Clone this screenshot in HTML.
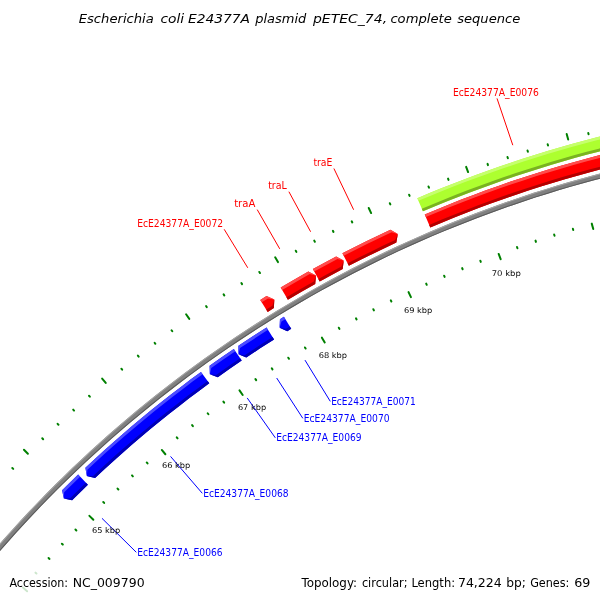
<!DOCTYPE html>
<html><head><meta charset="utf-8"><title>Escherichia coli E24377A plasmid pETEC_74</title>
<style>html,body{margin:0;padding:0;background:#fff;overflow:hidden}svg{display:block}</style></head>
<body>
<svg font-family="DejaVu Sans, Liberation Sans, sans-serif" width="600" height="600" viewBox="0 0 600 600">
<rect width="600" height="600" fill="#fff"/>
<g stroke-width="2" stroke-linecap="round"><line x1="-43.69" y1="530.94" x2="-47.95" y2="527.31" stroke="rgb(0,128,0)"/>
<line x1="22.86" y1="587.60" x2="27.12" y2="591.23" stroke="rgb(205,230,205)"/>
<line x1="-29.71" y1="515.19" x2="-30.69" y2="514.33" stroke="rgb(0,128,0)"/>
<line x1="35.49" y1="572.64" x2="36.47" y2="573.50" stroke="rgb(205,230,205)"/>
<line x1="-15.66" y1="499.51" x2="-16.62" y2="498.63" stroke="rgb(0,128,0)"/>
<line x1="48.56" y1="558.05" x2="49.52" y2="558.93" stroke="rgb(0,128,0)"/>
<line x1="-1.34" y1="484.07" x2="-2.29" y2="483.18" stroke="rgb(0,128,0)"/>
<line x1="61.88" y1="543.69" x2="62.82" y2="544.58" stroke="rgb(0,128,0)"/>
<line x1="13.23" y1="468.87" x2="12.30" y2="467.96" stroke="rgb(0,128,0)"/>
<line x1="75.44" y1="529.56" x2="76.37" y2="530.46" stroke="rgb(0,128,0)"/>
<line x1="27.89" y1="453.75" x2="23.95" y2="449.77" stroke="rgb(0,128,0)"/>
<line x1="89.41" y1="515.83" x2="93.35" y2="519.81" stroke="rgb(0,128,0)"/>
<line x1="43.15" y1="439.23" x2="42.25" y2="438.29" stroke="rgb(0,128,0)"/>
<line x1="103.26" y1="501.99" x2="104.16" y2="502.92" stroke="rgb(0,128,0)"/>
<line x1="58.48" y1="424.79" x2="57.59" y2="423.84" stroke="rgb(0,128,0)"/>
<line x1="117.52" y1="488.56" x2="118.40" y2="489.51" stroke="rgb(0,128,0)"/>
<line x1="74.05" y1="410.62" x2="73.18" y2="409.65" stroke="rgb(0,128,0)"/>
<line x1="132.00" y1="475.37" x2="132.87" y2="476.34" stroke="rgb(0,128,0)"/>
<line x1="89.86" y1="396.71" x2="89.01" y2="395.73" stroke="rgb(0,128,0)"/>
<line x1="146.71" y1="462.44" x2="147.56" y2="463.42" stroke="rgb(0,128,0)"/>
<line x1="105.74" y1="382.88" x2="102.15" y2="378.58" stroke="rgb(0,128,0)"/>
<line x1="161.79" y1="449.94" x2="165.38" y2="454.24" stroke="rgb(0,128,0)"/>
<line x1="122.17" y1="369.70" x2="121.35" y2="368.69" stroke="rgb(0,128,0)"/>
<line x1="176.76" y1="437.32" x2="177.58" y2="438.33" stroke="rgb(0,128,0)"/>
<line x1="138.66" y1="356.61" x2="137.86" y2="355.59" stroke="rgb(0,128,0)"/>
<line x1="192.10" y1="425.14" x2="192.90" y2="426.17" stroke="rgb(0,128,0)"/>
<line x1="155.38" y1="343.81" x2="154.60" y2="342.77" stroke="rgb(0,128,0)"/>
<line x1="207.65" y1="413.23" x2="208.43" y2="414.27" stroke="rgb(0,128,0)"/>
<line x1="172.31" y1="331.28" x2="171.54" y2="330.23" stroke="rgb(0,128,0)"/>
<line x1="223.39" y1="401.58" x2="224.16" y2="402.63" stroke="rgb(0,128,0)"/>
<line x1="189.30" y1="318.84" x2="186.09" y2="314.26" stroke="rgb(0,128,0)"/>
<line x1="239.48" y1="390.41" x2="242.69" y2="394.99" stroke="rgb(0,128,0)"/>
<line x1="206.79" y1="307.11" x2="206.06" y2="306.03" stroke="rgb(0,128,0)"/>
<line x1="255.47" y1="379.09" x2="256.19" y2="380.17" stroke="rgb(0,128,0)"/>
<line x1="224.33" y1="295.46" x2="223.62" y2="294.37" stroke="rgb(0,128,0)"/>
<line x1="271.78" y1="368.26" x2="272.49" y2="369.35" stroke="rgb(0,128,0)"/>
<line x1="242.07" y1="284.11" x2="241.37" y2="283.01" stroke="rgb(0,128,0)"/>
<line x1="288.28" y1="357.70" x2="288.97" y2="358.80" stroke="rgb(0,128,0)"/>
<line x1="259.99" y1="273.06" x2="259.32" y2="271.95" stroke="rgb(0,128,0)"/>
<line x1="304.95" y1="347.43" x2="305.63" y2="348.54" stroke="rgb(0,128,0)"/>
<line x1="277.98" y1="262.11" x2="275.16" y2="257.27" stroke="rgb(0,128,0)"/>
<line x1="321.92" y1="337.65" x2="324.74" y2="342.49" stroke="rgb(0,128,0)"/>
<line x1="296.39" y1="251.89" x2="295.76" y2="250.75" stroke="rgb(0,128,0)"/>
<line x1="338.81" y1="327.73" x2="339.45" y2="328.87" stroke="rgb(0,128,0)"/>
<line x1="314.86" y1="241.77" x2="314.24" y2="240.62" stroke="rgb(0,128,0)"/>
<line x1="355.99" y1="318.32" x2="356.60" y2="319.46" stroke="rgb(0,128,0)"/>
<line x1="333.49" y1="231.96" x2="332.89" y2="230.80" stroke="rgb(0,128,0)"/>
<line x1="373.32" y1="309.19" x2="373.91" y2="310.35" stroke="rgb(0,128,0)"/>
<line x1="352.29" y1="222.47" x2="351.71" y2="221.30" stroke="rgb(0,128,0)"/>
<line x1="390.80" y1="300.37" x2="391.38" y2="301.53" stroke="rgb(0,128,0)"/>
<line x1="371.13" y1="213.07" x2="368.74" y2="208.01" stroke="rgb(0,128,0)"/>
<line x1="408.54" y1="292.06" x2="410.93" y2="297.12" stroke="rgb(0,128,0)"/>
<line x1="390.35" y1="204.44" x2="389.81" y2="203.26" stroke="rgb(0,128,0)"/>
<line x1="426.20" y1="283.60" x2="426.74" y2="284.79" stroke="rgb(0,128,0)"/>
<line x1="409.60" y1="195.92" x2="409.09" y2="194.73" stroke="rgb(0,128,0)"/>
<line x1="444.11" y1="275.67" x2="444.63" y2="276.87" stroke="rgb(0,128,0)"/>
<line x1="429.00" y1="187.72" x2="428.50" y2="186.52" stroke="rgb(0,128,0)"/>
<line x1="462.15" y1="268.05" x2="462.65" y2="269.25" stroke="rgb(0,128,0)"/>
<line x1="448.53" y1="179.85" x2="448.05" y2="178.64" stroke="rgb(0,128,0)"/>
<line x1="480.32" y1="260.73" x2="480.79" y2="261.94" stroke="rgb(0,128,0)"/>
<line x1="468.10" y1="172.08" x2="466.14" y2="166.84" stroke="rgb(0,128,0)"/>
<line x1="498.69" y1="253.95" x2="500.65" y2="259.20" stroke="rgb(0,128,0)"/>
<line x1="487.98" y1="165.11" x2="487.54" y2="163.89" stroke="rgb(0,128,0)"/>
<line x1="517.01" y1="247.02" x2="517.44" y2="248.25" stroke="rgb(0,128,0)"/>
<line x1="507.88" y1="158.25" x2="507.47" y2="157.01" stroke="rgb(0,128,0)"/>
<line x1="535.52" y1="240.63" x2="535.94" y2="241.87" stroke="rgb(0,128,0)"/>
<line x1="527.90" y1="151.72" x2="527.51" y2="150.48" stroke="rgb(0,128,0)"/>
<line x1="554.14" y1="234.56" x2="554.54" y2="235.80" stroke="rgb(0,128,0)"/>
<line x1="548.03" y1="145.53" x2="547.66" y2="144.28" stroke="rgb(0,128,0)"/>
<line x1="572.87" y1="228.81" x2="573.24" y2="230.05" stroke="rgb(0,128,0)"/>
<line x1="568.19" y1="139.44" x2="566.68" y2="134.05" stroke="rgb(0,128,0)"/>
<line x1="591.75" y1="223.61" x2="593.26" y2="229.00" stroke="rgb(0,128,0)"/>
<line x1="588.58" y1="134.18" x2="588.25" y2="132.92" stroke="rgb(0,128,0)"/>
<line x1="610.59" y1="218.25" x2="610.91" y2="219.50" stroke="rgb(0,128,0)"/>
<line x1="609.00" y1="129.02" x2="608.69" y2="127.76" stroke="rgb(0,128,0)"/>
<line x1="629.57" y1="213.45" x2="629.88" y2="214.71" stroke="rgb(0,128,0)"/></g>
<polygon points="-12.32,557.65 -4.29,548.32 3.84,539.06 12.06,529.89 20.38,520.81 28.79,511.81 37.29,502.89 45.88,494.07 54.56,485.33 63.33,476.68 72.19,468.12 81.13,459.65 90.16,451.28 99.28,443.00 108.48,434.81 117.76,426.72 127.13,418.72 136.58,410.82 146.11,403.01 155.71,395.30 165.40,387.70 175.16,380.19 185.00,372.78 194.92,365.47 204.91,358.27 214.97,351.17 225.11,344.17 235.31,337.27 245.59,330.48 255.93,323.80 266.35,317.22 276.83,310.75 287.37,304.39 297.98,298.13 308.66,291.99 319.39,285.95 330.19,280.02 341.05,274.21 351.97,268.50 362.94,262.91 373.97,257.43 385.06,252.07 396.20,246.82 407.39,241.68 418.64,236.66 429.94,231.75 441.28,226.96 452.68,222.28 464.12,217.72 475.61,213.28 487.14,208.96 498.72,204.76 510.34,200.67 522.00,196.71 533.70,192.86 545.44,189.13 557.22,185.53 569.03,182.04 580.88,178.68 592.76,175.43 604.67,172.31 616.62,169.31 628.60,166.44 629.74,171.30 617.81,174.17 605.92,177.15 594.05,180.26 582.22,183.49 570.42,186.84 558.65,190.31 546.93,193.91 535.24,197.62 523.58,201.45 511.97,205.40 500.40,209.47 488.87,213.65 477.39,217.96 465.95,222.38 454.55,226.92 443.20,231.57 431.90,236.34 420.65,241.23 409.45,246.23 398.31,251.35 387.21,256.58 376.17,261.92 365.19,267.38 354.26,272.95 343.39,278.63 332.57,284.42 321.82,290.32 311.13,296.33 300.50,302.45 289.93,308.68 279.43,315.02 269.00,321.46 258.63,328.01 248.32,334.67 238.09,341.43 227.93,348.30 217.83,355.27 207.81,362.34 197.87,369.51 187.99,376.79 178.19,384.17 168.47,391.64 158.82,399.22 149.26,406.90 139.77,414.67 130.36,422.54 121.03,430.50 111.78,438.56 102.62,446.72 93.54,454.96 84.55,463.30 75.64,471.73 66.82,480.26 58.09,488.87 49.44,497.57 40.89,506.36 32.42,515.24 24.05,524.20 15.77,533.25 7.58,542.38 -0.51,551.60 -8.51,560.90" fill="rgb(128,128,128)"/>
<polygon points="-12.32,557.65 -4.29,548.32 3.84,539.06 12.06,529.89 20.38,520.81 28.79,511.81 37.29,502.89 45.88,494.07 54.56,485.33 63.33,476.68 72.19,468.12 81.13,459.65 90.16,451.28 99.28,443.00 108.48,434.81 117.76,426.72 127.13,418.72 136.58,410.82 146.11,403.01 155.71,395.30 165.40,387.70 175.16,380.19 185.00,372.78 194.92,365.47 204.91,358.27 214.97,351.17 225.11,344.17 235.31,337.27 245.59,330.48 255.93,323.80 266.35,317.22 276.83,310.75 287.37,304.39 297.98,298.13 308.66,291.99 319.39,285.95 330.19,280.02 341.05,274.21 351.97,268.50 362.94,262.91 373.97,257.43 385.06,252.07 396.20,246.82 407.39,241.68 418.64,236.66 429.94,231.75 441.28,226.96 452.68,222.28 464.12,217.72 475.61,213.28 487.14,208.96 498.72,204.76 510.34,200.67 522.00,196.71 533.70,192.86 545.44,189.13 557.22,185.53 569.03,182.04 580.88,178.68 592.76,175.43 604.67,172.31 616.62,169.31 628.60,166.44 628.82,167.41 616.86,170.28 604.92,173.28 593.02,176.40 581.15,179.64 569.31,183.00 557.50,186.48 545.74,190.09 534.01,193.81 522.32,197.65 510.66,201.62 499.05,205.70 487.49,209.90 475.96,214.22 464.48,218.66 453.05,223.21 441.67,227.88 430.33,232.67 419.04,237.57 407.80,242.59 396.62,247.72 385.49,252.97 374.41,258.33 363.39,263.81 352.42,269.39 341.52,275.09 330.67,280.90 319.88,286.82 309.15,292.86 298.49,299.00 287.89,305.25 277.35,311.60 266.88,318.07 256.47,324.64 246.14,331.32 235.87,338.10 225.67,344.99 215.54,351.99 205.49,359.08 195.51,366.28 185.60,373.58 175.77,380.98 166.01,388.49 156.34,396.09 146.74,403.79 137.22,411.59 127.78,419.48 118.42,427.47 109.14,435.56 99.95,443.74 90.84,452.02 81.81,460.38 72.88,468.84 64.03,477.40 55.26,486.04 46.59,494.77 38.01,503.59 29.51,512.49 21.11,521.48 12.80,530.56 4.59,539.73 -3.53,548.97 -11.56,558.30" fill="rgb(166,166,166)"/>
<polygon points="-9.27,560.25 -1.27,550.94 6.83,541.72 15.03,532.58 23.32,523.52 31.70,514.55 40.17,505.67 48.73,496.87 57.38,488.16 66.12,479.54 74.95,471.01 83.87,462.57 92.87,454.23 101.95,445.97 111.12,437.81 120.38,429.74 129.71,421.77 139.13,413.90 148.63,406.12 158.20,398.44 167.86,390.85 177.59,383.37 187.39,375.99 197.28,368.71 207.23,361.52 217.26,354.45 227.36,347.47 237.54,340.60 247.78,333.83 258.09,327.17 268.47,320.61 278.91,314.16 289.42,307.82 300.00,301.59 310.64,295.46 321.34,289.45 332.10,283.54 342.92,277.74 353.80,272.06 364.74,266.49 375.73,261.03 386.78,255.68 397.89,250.44 409.04,245.32 420.25,240.32 431.51,235.43 442.82,230.65 454.18,225.99 465.58,221.45 477.03,217.02 488.53,212.71 500.06,208.52 511.65,204.45 523.27,200.50 534.93,196.66 546.63,192.95 558.37,189.36 570.14,185.88 581.95,182.53 593.79,179.30 605.67,176.19 617.57,173.20 629.51,170.33 629.74,171.30 617.81,174.17 605.92,177.15 594.05,180.26 582.22,183.49 570.42,186.84 558.65,190.31 546.93,193.91 535.24,197.62 523.58,201.45 511.97,205.40 500.40,209.47 488.87,213.65 477.39,217.96 465.95,222.38 454.55,226.92 443.20,231.57 431.90,236.34 420.65,241.23 409.45,246.23 398.31,251.35 387.21,256.58 376.17,261.92 365.19,267.38 354.26,272.95 343.39,278.63 332.57,284.42 321.82,290.32 311.13,296.33 300.50,302.45 289.93,308.68 279.43,315.02 269.00,321.46 258.63,328.01 248.32,334.67 238.09,341.43 227.93,348.30 217.83,355.27 207.81,362.34 197.87,369.51 187.99,376.79 178.19,384.17 168.47,391.64 158.82,399.22 149.26,406.90 139.77,414.67 130.36,422.54 121.03,430.50 111.78,438.56 102.62,446.72 93.54,454.96 84.55,463.30 75.64,471.73 66.82,480.26 58.09,488.87 49.44,497.57 40.89,506.36 32.42,515.24 24.05,524.20 15.77,533.25 7.58,542.38 -0.51,551.60 -8.51,560.90" fill="rgb(90,90,90)"/>
<polygon points="78.15,474.60 62.16,490.18 63.77,498.53 72.10,500.18 87.89,484.79" fill="rgb(0,0,255)"/>
<polygon points="78.15,474.60 62.16,490.18 63.77,498.53 64.15,492.18 80.10,476.64" fill="rgb(76,76,255)"/>
<polygon points="85.94,482.75 70.11,498.18 63.77,498.53 72.10,500.18 87.89,484.79" fill="rgb(0,0,178)"/>
<polygon points="200.98,371.94 190.90,379.36 180.90,386.88 170.98,394.51 161.13,402.24 151.37,410.07 141.69,418.00 132.10,426.04 122.59,434.17 113.17,442.41 103.83,450.74 94.58,459.17 85.42,467.70 86.80,476.09 95.08,477.97 104.13,469.54 113.27,461.21 122.50,452.98 131.81,444.84 141.21,436.80 150.69,428.86 160.25,421.02 169.90,413.28 179.63,405.64 189.43,398.11 199.32,390.67 209.28,383.35" fill="rgb(0,0,255)"/>
<polygon points="200.98,371.94 190.90,379.36 180.90,386.88 170.98,394.51 161.13,402.24 151.37,410.07 141.69,418.00 132.10,426.04 122.59,434.17 113.17,442.41 103.83,450.74 94.58,459.17 85.42,467.70 86.80,476.09 87.35,469.75 96.49,461.25 105.72,452.84 115.03,444.52 124.44,436.31 133.92,428.19 143.49,420.18 153.15,412.26 162.89,404.45 172.71,396.74 182.61,389.13 192.58,381.62 202.64,374.23" fill="rgb(76,76,255)"/>
<polygon points="207.62,381.07 197.63,388.41 187.73,395.86 177.90,403.42 168.15,411.07 158.48,418.83 148.89,426.69 139.39,434.65 129.97,442.71 120.63,450.86 111.38,459.12 102.22,467.47 93.15,475.91 86.80,476.09 95.08,477.97 104.13,469.54 113.27,461.21 122.50,452.98 131.81,444.84 141.21,436.80 150.69,428.86 160.25,421.02 169.90,413.28 179.63,405.64 189.43,398.11 199.32,390.67 209.28,383.35" fill="rgb(0,0,178)"/>
<polygon points="233.82,348.89 221.66,357.23 209.61,365.73 209.85,374.23 217.80,377.20 229.71,368.81 241.73,360.56" fill="rgb(0,0,255)"/>
<polygon points="233.82,348.89 221.66,357.23 209.61,365.73 209.85,374.23 211.25,368.02 223.27,359.55 235.40,351.22" fill="rgb(76,76,255)"/>
<polygon points="240.14,358.22 228.10,366.49 216.16,374.91 209.85,374.23 217.80,377.20 229.71,368.81 241.73,360.56" fill="rgb(0,0,178)"/>
<polygon points="266.56,327.48 252.44,336.52 238.44,345.77 238.44,354.27 246.30,357.48 260.12,348.34 274.08,339.41" fill="rgb(0,0,255)"/>
<polygon points="266.56,327.48 252.44,336.52 238.44,345.77 238.44,354.27 240.01,348.11 253.97,338.89 268.06,329.87" fill="rgb(76,76,255)"/>
<polygon points="272.57,337.02 258.59,345.98 244.73,355.13 238.44,354.27 246.30,357.48 260.12,348.34 274.08,339.41" fill="rgb(0,0,178)"/>
<polygon points="283.92,316.74 279.96,319.15 279.61,327.64 287.33,331.17 291.23,328.79" fill="rgb(0,0,255)"/>
<polygon points="283.92,316.74 279.96,319.15 279.61,327.64 281.44,321.55 285.38,319.15" fill="rgb(76,76,255)"/>
<polygon points="289.77,326.38 285.85,328.77 279.61,327.64 287.33,331.17 291.23,328.79" fill="rgb(0,0,178)"/>
<polygon points="260.28,299.91 266.51,296.07 274.33,299.57 273.87,308.10 267.71,311.90" fill="rgb(255,0,0)"/>
<polygon points="260.28,299.91 266.51,296.07 274.33,299.57 267.99,298.48 261.77,302.31" fill="rgb(255,76,76)"/>
<polygon points="266.23,309.50 272.40,305.70 274.33,299.57 273.87,308.10 267.71,311.90" fill="rgb(178,0,0)"/>
<polygon points="280.69,287.53 294.47,279.48 308.35,271.61 316.02,275.41 315.22,283.92 301.50,291.70 287.89,299.66" fill="rgb(255,0,0)"/>
<polygon points="280.69,287.53 294.47,279.48 308.35,271.61 316.02,275.41 309.72,274.07 295.88,281.93 282.13,289.96" fill="rgb(255,76,76)"/>
<polygon points="286.45,297.23 300.10,289.26 313.85,281.46 316.02,275.41 315.22,283.92 301.50,291.70 287.89,299.66" fill="rgb(178,0,0)"/>
<polygon points="312.88,269.09 324.48,262.76 336.15,256.56 343.73,260.55 342.71,269.04 331.17,275.17 319.70,281.43" fill="rgb(255,0,0)"/>
<polygon points="312.88,269.09 324.48,262.76 336.15,256.56 343.73,260.55 337.46,259.05 325.82,265.24 314.25,271.56" fill="rgb(255,76,76)"/>
<polygon points="318.34,278.97 329.83,272.69 341.39,266.54 343.73,260.55 342.71,269.04 331.17,275.17 319.70,281.43" fill="rgb(178,0,0)"/>
<polygon points="342.40,253.30 354.31,247.21 366.29,241.26 378.34,235.44 390.44,229.75 397.81,234.12 396.37,242.55 384.40,248.17 372.50,253.92 360.66,259.81 348.88,265.82" fill="rgb(255,0,0)"/>
<polygon points="342.40,253.30 354.31,247.21 366.29,241.26 378.34,235.44 390.44,229.75 397.81,234.12 391.63,232.31 379.55,237.99 367.53,243.79 355.58,249.73 343.70,255.80" fill="rgb(255,76,76)"/>
<polygon points="347.59,263.32 359.39,257.29 371.26,251.39 383.19,245.62 395.18,239.99 397.81,234.12 396.37,242.55 384.40,248.17 372.50,253.92 360.66,259.81 348.88,265.82" fill="rgb(178,0,0)"/>
<polygon points="424.74,214.50 436.87,209.41 449.05,204.45 461.29,199.62 473.57,194.92 485.91,190.35 498.30,185.91 510.73,181.61 523.21,177.45 535.73,173.42 548.30,169.52 560.90,165.76 573.55,162.14 586.24,158.65 598.96,155.30 611.71,152.09 624.51,149.01 627.73,162.74 615.08,165.78 602.47,168.95 589.90,172.27 577.36,175.71 564.86,179.30 552.40,183.01 539.98,186.86 527.60,190.85 515.27,194.96 502.98,199.22 490.73,203.60 478.54,208.11 466.39,212.76 454.30,217.53 442.26,222.44 430.27,227.48" fill="rgb(255,0,0)"/>
<polygon points="424.74,214.50 436.87,209.41 449.05,204.45 461.29,199.62 473.57,194.92 485.91,190.35 498.30,185.91 510.73,181.61 523.21,177.45 535.73,173.42 548.30,169.52 560.90,165.76 573.55,162.14 586.24,158.65 598.96,155.30 611.71,152.09 624.51,149.01 625.15,151.76 612.39,154.82 599.66,158.03 586.97,161.37 574.31,164.85 561.70,168.47 549.12,172.22 536.58,176.11 524.09,180.13 511.64,184.28 499.23,188.57 486.88,193.00 474.57,197.55 462.31,202.24 450.10,207.06 437.94,212.02 425.84,217.10" fill="rgb(255,76,76)"/>
<polygon points="429.16,224.88 441.18,219.83 453.25,214.92 465.37,210.13 477.55,205.47 489.77,200.95 502.04,196.56 514.36,192.29 526.72,188.17 539.13,184.17 551.58,180.31 564.07,176.59 576.60,173.00 589.17,169.54 601.77,166.22 614.41,163.04 627.08,159.99 627.73,162.74 615.08,165.78 602.47,168.95 589.90,172.27 577.36,175.71 564.86,179.30 552.40,183.01 539.98,186.86 527.60,190.85 515.27,194.96 502.98,199.22 490.73,203.60 478.54,208.11 466.39,212.76 454.30,217.53 442.26,222.44 430.27,227.48" fill="rgb(178,0,0)"/>
<polygon points="417.33,198.20 428.93,193.32 440.58,188.56 452.28,183.91 464.03,179.39 475.82,174.98 487.66,170.69 499.54,166.53 511.46,162.48 523.42,158.56 535.42,154.76 547.46,151.08 559.53,147.52 571.64,144.09 583.79,140.77 595.96,137.59 608.17,134.52 620.41,131.58 623.68,145.51 611.58,148.41 599.52,151.44 587.48,154.59 575.47,157.86 563.50,161.26 551.57,164.77 539.67,168.41 527.81,172.17 515.98,176.05 504.20,180.05 492.46,184.16 480.76,188.40 469.10,192.76 457.49,197.23 445.93,201.82 434.41,206.53 422.94,211.36" fill="rgb(173,255,47)"/>
<polygon points="417.33,198.20 428.93,193.32 440.58,188.56 452.28,183.91 464.03,179.39 475.82,174.98 487.66,170.69 499.54,166.53 511.46,162.48 523.42,158.56 535.42,154.76 547.46,151.08 559.53,147.52 571.64,144.09 583.79,140.77 595.96,137.59 608.17,134.52 620.41,131.58 621.07,134.37 608.86,137.30 596.67,140.36 584.52,143.54 572.41,146.84 560.33,150.27 548.28,153.82 536.27,157.49 524.30,161.28 512.36,165.19 500.47,169.23 488.62,173.39 476.81,177.66 465.05,182.06 453.33,186.58 441.65,191.21 430.03,195.96 418.45,200.83" fill="rgb(198,255,109)"/>
<polygon points="421.82,208.73 433.32,203.89 444.86,199.17 456.45,194.57 468.09,190.08 479.77,185.72 491.50,181.47 503.27,177.34 515.08,173.33 526.93,169.45 538.82,165.68 550.74,162.03 562.71,158.51 574.71,155.11 586.74,151.83 598.80,148.67 610.90,145.63 623.03,142.72 623.68,145.51 611.58,148.41 599.52,151.44 587.48,154.59 575.47,157.86 563.50,161.26 551.57,164.77 539.67,168.41 527.81,172.17 515.98,176.05 504.20,180.05 492.46,184.16 480.76,188.40 469.10,192.76 457.49,197.23 445.93,201.82 434.41,206.53 422.94,211.36" fill="rgb(121,178,33)"/>
<line x1="247.76" y1="267.81" x2="224.20" y2="229.30" stroke="rgb(255,0,0)" stroke-width="1"/>
<line x1="279.73" y1="248.85" x2="257.20" y2="209.60" stroke="rgb(255,0,0)" stroke-width="1"/>
<line x1="310.61" y1="231.73" x2="288.90" y2="191.70" stroke="rgb(255,0,0)" stroke-width="1"/>
<line x1="353.63" y1="209.72" x2="333.90" y2="168.50" stroke="rgb(255,0,0)" stroke-width="1"/>
<line x1="512.80" y1="145.19" x2="497.00" y2="98.40" stroke="rgb(255,0,0)" stroke-width="1"/>
<line x1="304.97" y1="360.12" x2="330.30" y2="401.40" stroke="rgb(0,0,255)" stroke-width="1"/>
<line x1="276.69" y1="378.01" x2="302.80" y2="418.30" stroke="rgb(0,0,255)" stroke-width="1"/>
<line x1="247.19" y1="397.94" x2="275.30" y2="437.80" stroke="rgb(0,0,255)" stroke-width="1"/>
<line x1="170.56" y1="456.43" x2="202.30" y2="493.30" stroke="rgb(0,0,255)" stroke-width="1"/>
<line x1="101.98" y1="518.32" x2="136.30" y2="552.30" stroke="rgb(0,0,255)" stroke-width="1"/>
<text id="t_E0072" x="137.15" y="226.6" font-size="10.8" fill="rgb(255,0,0)" textLength="85.95" lengthAdjust="spacingAndGlyphs">EcE24377A_E0072</text>
<text id="t_traA" x="234.15" y="206.9" font-size="10.8" fill="rgb(255,0,0)" textLength="21.20" lengthAdjust="spacingAndGlyphs">traA</text>
<text id="t_traL" x="268.15" y="189.0" font-size="10.8" fill="rgb(255,0,0)" textLength="18.70" lengthAdjust="spacingAndGlyphs">traL</text>
<text id="t_traE" x="313.40" y="165.8" font-size="10.8" fill="rgb(255,0,0)" textLength="18.95" lengthAdjust="spacingAndGlyphs">traE</text>
<text id="t_E0076" x="452.90" y="95.6" font-size="10.8" fill="rgb(255,0,0)" textLength="85.95" lengthAdjust="spacingAndGlyphs">EcE24377A_E0076</text>
<text id="t_E0071" x="331.15" y="404.6" font-size="10.8" fill="rgb(0,0,255)" textLength="84.70" lengthAdjust="spacingAndGlyphs">EcE24377A_E0071</text>
<text id="t_E0070" x="303.65" y="421.5" font-size="10.8" fill="rgb(0,0,255)" textLength="85.95" lengthAdjust="spacingAndGlyphs">EcE24377A_E0070</text>
<text id="t_E0069" x="276.15" y="441.0" font-size="10.8" fill="rgb(0,0,255)" textLength="85.45" lengthAdjust="spacingAndGlyphs">EcE24377A_E0069</text>
<text id="t_E0068" x="203.15" y="496.5" font-size="10.8" fill="rgb(0,0,255)" textLength="85.45" lengthAdjust="spacingAndGlyphs">EcE24377A_E0068</text>
<text id="t_E0066" x="137.15" y="555.5" font-size="10.8" fill="rgb(0,0,255)" textLength="85.45" lengthAdjust="spacingAndGlyphs">EcE24377A_E0066</text>
<text id="k65" x="91.90" y="532.7" font-size="7.9" fill="#0a0a0a" textLength="28.45" lengthAdjust="spacingAndGlyphs">65 kbp</text>
<text id="k66" x="161.90" y="467.6" font-size="7.9" fill="#0a0a0a" textLength="28.45" lengthAdjust="spacingAndGlyphs">66 kbp</text>
<text id="k67" x="237.90" y="410.0" font-size="7.9" fill="#0a0a0a" textLength="28.20" lengthAdjust="spacingAndGlyphs">67 kbp</text>
<text id="k68" x="318.65" y="357.6" font-size="7.9" fill="#0a0a0a" textLength="28.45" lengthAdjust="spacingAndGlyphs">68 kbp</text>
<text id="k69" x="403.90" y="312.8" font-size="7.9" fill="#0a0a0a" textLength="28.45" lengthAdjust="spacingAndGlyphs">69 kbp</text>
<text id="k70" x="491.65" y="275.9" font-size="7.9" fill="#0a0a0a" textLength="29.20" lengthAdjust="spacingAndGlyphs">70 kbp</text>
<text id="h1" x="78.65" y="23.0" font-size="13.0" fill="#000" font-style="italic" textLength="75.20" lengthAdjust="spacingAndGlyphs">Escherichia</text>
<text id="h2" x="160.40" y="23.0" font-size="13.0" fill="#000" font-style="italic" textLength="23.70" lengthAdjust="spacingAndGlyphs">coli</text>
<text id="h3" x="187.90" y="23.0" font-size="13.0" fill="#000" font-style="italic" textLength="62.20" lengthAdjust="spacingAndGlyphs">E24377A</text>
<text id="h4" x="255.15" y="23.0" font-size="13.0" fill="#000" font-style="italic" textLength="51.20" lengthAdjust="spacingAndGlyphs">plasmid</text>
<text id="h5" x="312.90" y="23.0" font-size="13.0" fill="#000" font-style="italic" textLength="74.20" lengthAdjust="spacingAndGlyphs">pETEC_74,</text>
<text id="h6" x="390.40" y="23.0" font-size="13.0" fill="#000" font-style="italic" textLength="61.45" lengthAdjust="spacingAndGlyphs">complete</text>
<text id="h7" x="457.15" y="23.0" font-size="13.0" fill="#000" font-style="italic" textLength="63.20" lengthAdjust="spacingAndGlyphs">sequence</text>
<text id="a1" x="9.40" y="587.0" font-size="12.1" fill="#000" textLength="58.70" lengthAdjust="spacingAndGlyphs">Accession:</text>
<text id="a2" x="72.65" y="587.0" font-size="12.1" fill="#000" textLength="71.95" lengthAdjust="spacingAndGlyphs">NC_009790</text>
<text id="b1" x="301.40" y="587.0" font-size="12.1" fill="#000" textLength="55.70" lengthAdjust="spacingAndGlyphs">Topology:</text>
<text id="b2" x="361.90" y="587.0" font-size="12.1" fill="#000" textLength="45.70" lengthAdjust="spacingAndGlyphs">circular;</text>
<text id="b3" x="411.40" y="587.0" font-size="12.1" fill="#000" textLength="43.70" lengthAdjust="spacingAndGlyphs">Length:</text>
<text id="b4" x="457.90" y="587.0" font-size="12.1" fill="#000" textLength="43.95" lengthAdjust="spacingAndGlyphs">74,224</text>
<text id="b5" x="506.15" y="587.0" font-size="12.1" fill="#000" textLength="19.70" lengthAdjust="spacingAndGlyphs">bp;</text>
<text id="b6" x="530.15" y="587.0" font-size="12.1" fill="#000" textLength="39.20" lengthAdjust="spacingAndGlyphs">Genes:</text>
<text id="b7" x="574.15" y="587.0" font-size="12.1" fill="#000" textLength="16.20" lengthAdjust="spacingAndGlyphs">69</text>
</svg>
</body></html>
